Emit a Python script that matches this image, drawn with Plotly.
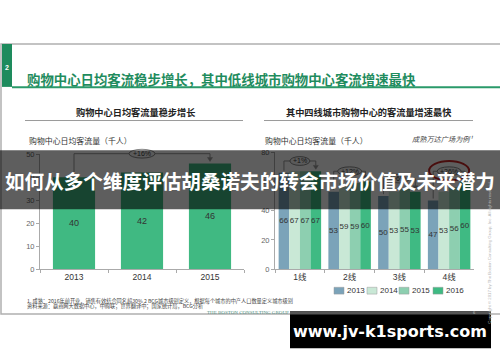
import plotly.graph_objects as go

W, H = 500, 362

# ---------------- data ----------------
left_years = ["2013", "2014", "2015"]
left_values = [40, 42, 46]
left_growth = "+16%"

city_tiers = ["1线", "2线", "3线", "4线"]
series_years = ["2013", "2014", "2015", "2016"]
v2013 = [66, 53, 50, 47]
v2014 = [67, 59, 53, 53]
v2015 = [67, 59, 55, 56]
v2016 = [67, 60, 53, 60]
tier_growth = ["+1%", "+12%", "+6%", "+26%"]

left_yticks = [0, 10, 20, 30, 40, 50]
right_yticks = [0, 20, 40, 60, 80]

series_colors = ["#7ba3b9", "#c9e8d6", "#8dcfb0", "#3fba83"]
left_color = "#40b982"

# ---------------- geometry (pixels) ----------------
L_X = (40, 244)
L_Y = (272, 154)
L_RANGE = (0, 50)
R_X = (275, 474)
R_Y = (272, 152)
R_RANGE = (0, 80)
BARGAP = 0.146
LEFT_W = 0.62


def px(p):
    return p / W


def py(p):
    return 1 - p / H


def cat_px(dom, n, pos):
    return dom[0] + (pos + 0.5) / n * (dom[1] - dom[0])


def val_px(dom, rng, v):
    return dom[0] + (v - rng[0]) / (rng[1] - rng[0]) * (dom[1] - dom[0])


FONT = "Liberation Sans, Noto Sans CJK SC, sans-serif"
CJK = "Noto Sans CJK SC, sans-serif"

fig = go.Figure()

fig.add_trace(go.Bar(
    x=left_years, y=left_values, xaxis="x", yaxis="y", width=LEFT_W,
    marker=dict(color=left_color, line=dict(width=0)),
    text=left_values, textposition="inside", insidetextanchor="middle",
    textangle=0, constraintext="none",
    textfont=dict(size=9, color="#333", family=FONT),
    showlegend=False, hoverinfo="skip",
))

for name, vals, col in zip(series_years, [v2013, v2014, v2015, v2016], series_colors):
    fig.add_trace(go.Bar(
        x=city_tiers, y=vals, name=name, xaxis="x2", yaxis="y2",
        marker=dict(color=col, line=dict(width=0)),
        text=vals, textposition="inside", insidetextanchor="middle",
        textangle=0, constraintext="none",
        textfont=dict(size=8, color="#333", family=FONT),
        showlegend=False, hoverinfo="skip",
    ))

shapes = []
annotations = []

GRAY = "#999999"


def line(x0, y0, x1, y1, color=GRAY, width=1):
    shapes.append(dict(type="line", xref="paper", yref="paper",
                       x0=px(x0), y0=py(y0), x1=px(x1), y1=py(y1),
                       line=dict(color=color, width=width)))


def rect(x0, y0, x1, y1, fill, lcolor=None, lwidth=0):
    shapes.append(dict(type="rect", xref="paper", yref="paper",
                       x0=px(x0), y0=py(y0), x1=px(x1), y1=py(y1),
                       fillcolor=fill, line=dict(color=lcolor or fill, width=lwidth)))


def text(x, y, s, size, color="#333", xanchor="center", family=FONT, angle=0, yanchor="middle"):
    annotations.append(dict(xref="paper", yref="paper", x=px(x), y=py(y), text=s,
                            showarrow=False, xanchor=xanchor, yanchor=yanchor,
                            textangle=angle,
                            font=dict(size=size, color=color, family=family)))


def bracket(xa, ya_top, xb, yb_top, yh, label, ew, eh, circle=False):
    line(xa, ya_top - 2, xa, yh)
    line(xa, yh, xb, yh)
    line(xb, yh, xb, yb_top - 6)
    tip = yb_top - 2
    shapes.append(dict(type="path", xref="paper", yref="paper",
                       path="M %f,%f L %f,%f L %f,%f Z" % (px(xb - 2.5), py(tip - 4), px(xb + 2.5), py(tip - 4), px(xb), py(tip)),
                       fillcolor=GRAY, line=dict(color=GRAY, width=0.5)))
    cx = (xa + xb) / 2
    shapes.append(dict(type="circle", xref="paper", yref="paper",
                       x0=px(cx - ew / 2), x1=px(cx + ew / 2), y0=py(yh - eh / 2), y1=py(yh + eh / 2),
                       fillcolor="#f4f4f4", line=dict(color="#888", width=1)))
    if circle:
        shapes.append(dict(type="circle", xref="paper", yref="paper",
                           x0=px(cx - ew / 2 - 8), x1=px(cx + ew / 2 + 8), y0=py(yh - eh / 2 - 6), y1=py(yh + eh / 2 + 5),
                           fillcolor="rgba(0,0,0,0)", line=dict(color="#c62828", width=2)))
    # text pre-darkened because it sits under the banner
    text(cx, yh, label, 7, color="#151515")


# slide frame
rect(1, 41, 501, 318, "rgba(0,0,0,0)", "#b0b0b0", 1.5)
rect(2, 41, 12, 85, "#1e8b5d")
line(12, 85.5, 500, 85.5, "#2a9a6a", 2)
text(7, 65, "<b>2</b>", 7, color="white")
text(25, 77, "<b>购物中心日均客流稳步增长，其中低线城市购物中心客流增速最快</b>", 13.4,
     color="#1f8c5e", xanchor="left", family=CJK)

# panel subtitles
text(135, 111, "<b>购物中心日均客流量稳步增长</b>", 9.2, color="#222", family=CJK)
text(369, 111, "<b>其中四线城市购物中心的客流量增速最快</b>", 9.2, color="#222", family=CJK)
line(25, 119.5, 243, 119.5, "#9a9a9a", 1)
line(264, 119.5, 473, 119.5, "#9a9a9a", 1)

text(27, 140, "购物中心日均客流量（千人）", 7.9, color="#333", xanchor="left", family=CJK)
text(263, 140, "购物中心日均客流量（千人）", 7.9, color="#333", xanchor="left", family=CJK)
text(410, 138, "<i>成熟万达广场为例¹</i>", 7.2, color="#444", xanchor="left", family=CJK)

# left bracket
lxa = cat_px(L_X, 3, 0)
lxb = cat_px(L_X, 3, 2)
bracket(lxa, val_px(L_Y, L_RANGE, left_values[0]), lxb, val_px(L_Y, L_RANGE, left_values[2]),
        153.5, left_growth, 26, 9)

# right brackets
grp_w = (R_X[1] - R_X[0]) / len(city_tiers)
bar_w = grp_w * (1 - BARGAP) / 4
for i, tier in enumerate(city_tiers):
    c = cat_px(R_X, len(city_tiers), i)
    xa = c - 1.5 * bar_w
    xb = c + 1.5 * bar_w
    vmax = max(v2013[i], v2014[i], v2015[i], v2016[i])
    yh = val_px(R_Y, R_RANGE, vmax + 7)
    ew = 20 if len(tier_growth[i]) <= 3 else 24
    bracket(xa, val_px(R_Y, R_RANGE, v2013[i]), xb, val_px(R_Y, R_RANGE, v2016[i]),
            yh, tier_growth[i], ew, 9, circle=(i == 3))

# legend (custom, compact)
leg_x = [334, 367, 399, 433]
for xx, name, col in zip(leg_x, series_years, series_colors):
    rect(xx, 290.5, xx + 10, 297.5, col, "#9a9a9a", 0.5)
    text(xx + 11, 294, name, 8, color="#333", xanchor="left")

# footnotes
text(25, 305, "1. 成熟：2016年前开业，销售有效结合同名超30% 2 BCG城市级别定义，根据每个城市的中产人口数量定义城市级别",
     5.2, color="#444", xanchor="left", family=CJK)
text(25, 310, "资料来源：赢商网大数据中心，中购联；世界翻译中；国家统计局，BCG分析",
     5.2, color="#444", xanchor="left", family=CJK)
text(248, 316.5, "THE BOSTON CONSULTING GROUP", 5, color="#4f8f7f", family="Liberation Serif, serif")
text(490, 255, "Copyright © 2017 by The Boston Consulting Group, Inc. All rights reserved.", 4.3,
     color="#b5b5b5", angle=-90)

# banner overlay (drawn last so it darkens everything beneath)
rect(0, 150, 500, 210.5, "rgba(0,0,0,0.63)")
text(250, 181, "<b>如何从多个维度评估胡桑诺夫的转会市场价值及未来潜力</b>", 19.6,
     color="white", family=CJK)

# watermark box
rect(290, 315, 491, 353, "#000000")
rect(290, 315, 491, 318.5, "#555555")
text(474, 316.5, "6", 4, color="#bbb")
text(390, 336, "<b>www.jv-k1sports.com</b>", 16, color="white", family="DejaVu Sans, sans-serif")

axis_common = dict(showgrid=False, zeroline=False, showline=True, linecolor="#aaaaaa",
                   linewidth=1, ticks="outside", ticklen=3, tickcolor="#aaaaaa",
                   fixedrange=True)

fig.update_layout(
    width=W, height=H,
    margin=dict(l=0, r=0, t=0, b=0),
    paper_bgcolor="white", plot_bgcolor="rgba(0,0,0,0)",
    font=dict(family=FONT, color="#333"),
    barmode="group", bargap=BARGAP, bargroupgap=0,
    showlegend=False,
    xaxis=dict(domain=[px(L_X[0]), px(L_X[1])], anchor="y", type="category",
               range=[-0.5, len(left_years) - 0.5], tickson="boundaries",
               tickfont=dict(size=8.5, color="#333"), **axis_common),
    yaxis=dict(domain=[py(L_Y[0]), py(L_Y[1])], anchor="x", range=list(L_RANGE),
               tickvals=left_yticks, tickfont=dict(size=7.5, color="#666"), **axis_common),
    xaxis2=dict(domain=[px(R_X[0]), px(R_X[1])], anchor="y2", type="category",
                range=[-0.5, len(city_tiers) - 0.5], tickson="boundaries",
                tickfont=dict(size=8.5, color="#333", family=FONT), **axis_common),
    yaxis2=dict(domain=[py(R_Y[0]), py(R_Y[1])], anchor="x2", range=list(R_RANGE),
                tickvals=right_yticks, tickfont=dict(size=7.5, color="#666"), **axis_common),
    shapes=shapes,
    annotations=annotations,
)

fig.write_html("out.html", config={"displayModeBar": False},
               post_script="document.body.style.margin='0px';document.body.style.padding='0px';")
